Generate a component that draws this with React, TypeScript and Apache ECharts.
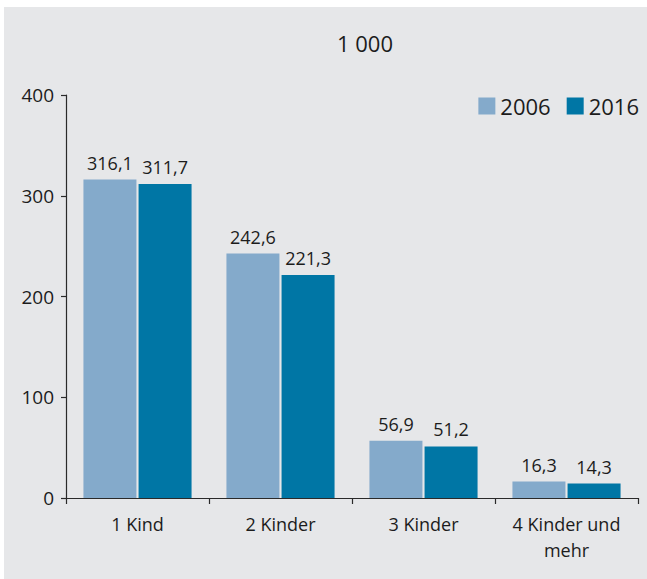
import React, { useEffect, useRef } from "react";
import * as echarts from "echarts";

const categories = ["1 Kind", "2 Kinder", "3 Kinder", "4 Kinder und\nmehr"];
const values2006 = [316.1, 242.6, 56.9, 16.3];
const values2016 = [311.7, 221.3, 51.2, 14.3];
const seriesNames = ["2006", "2016"];
const yTicks = { min: 0, max: 400, interval: 100 };
const unitLabel = "1 000";

const FONT = "'Open Sans', 'Noto Sans', sans-serif";
const TEXT = "#1c1c1c";
const AXIS = "#2a2a2a";

export default function App() {
  const ref = useRef<HTMLDivElement>(null);
  useEffect(() => {
    if (!ref.current) return;
    const chart = echarts.init(ref.current, null, { renderer: "svg" });
    const fmt = (p: any) => String(p.value).replace(".", ",");
    chart.setOption({
      animation: false,
      backgroundColor: "transparent",
      textStyle: { fontFamily: FONT, color: TEXT },
      title: {
        text: unitLabel,
        left: 360,
        top: 27,
        textAlign: "center",
        textStyle: { fontFamily: FONT, fontSize: 22, fontWeight: "normal", color: TEXT },
      },
      legend: {
        data: seriesNames,
        right: 8,
        top: 95,
        padding: 0,
        icon: "rect",
        itemWidth: 17,
        itemHeight: 17,
        itemGap: 16,
        textStyle: { fontFamily: FONT, fontSize: 22, color: TEXT, padding: [0, 0, 0, 0] },
      },
      grid: { left: 66, right: 9, top: 95, bottom: 81, containLabel: false },
      xAxis: {
        type: "category",
        data: categories,
        axisLine: { show: true, lineStyle: { color: AXIS, width: 1.2 } },
        axisTick: { show: true, length: 6, lineStyle: { color: AXIS, width: 1.2 } },
        axisLabel: {
          fontFamily: FONT,
          fontSize: 18,
          color: TEXT,
          margin: 13,
          lineHeight: 26,
          interval: 0,
        },
      },
      yAxis: {
        type: "value",
        min: yTicks.min,
        max: yTicks.max,
        interval: yTicks.interval,
        splitLine: { show: false },
        axisLine: { show: true, lineStyle: { color: AXIS, width: 1.2 } },
        axisTick: { show: true, length: 5, lineStyle: { color: AXIS, width: 1.2 } },
        axisLabel: { fontFamily: FONT, fontSize: 19, color: TEXT, margin: 12 },
      },
      series: [
        {
          name: seriesNames[0],
          type: "bar",
          data: values2006,
          barWidth: 53,
          barGap: "4%",
          itemStyle: { color: "#84aacb" },
          label: {
            show: true,
            position: "top",
            distance: 8,
            formatter: fmt,
            fontFamily: FONT,
            fontSize: 18,
            color: TEXT,
          },
        },
        {
          name: seriesNames[1],
          type: "bar",
          data: values2016,
          barWidth: 53,
          barGap: "4%",
          itemStyle: { color: "#0076a5" },
          label: {
            show: true,
            position: "top",
            distance: 8,
            formatter: fmt,
            fontFamily: FONT,
            fontSize: 18,
            color: TEXT,
          },
        },
      ],
    });
    return () => chart.dispose();
  }, []);

  return (
    <div style={{ position: "fixed", left: 0, top: 0, width: 647, height: 579, background: "#ffffff" }}>
      <div
        style={{ position: "absolute", left: 4, top: 7, width: 643, height: 572, background: "#e6e7e9" }}
      />
      <div ref={ref} style={{ position: "absolute", left: 0, top: 0, width: 647, height: 579 }} />
    </div>
  );
}
